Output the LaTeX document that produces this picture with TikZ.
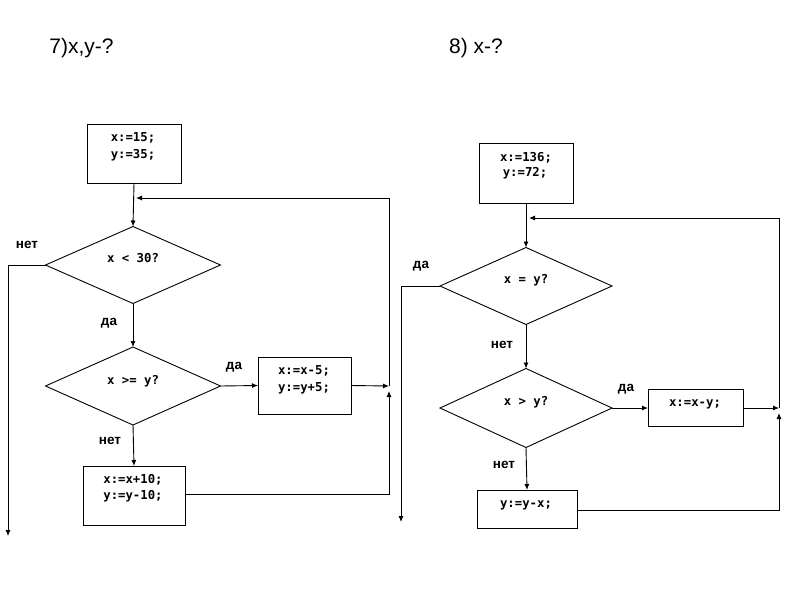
\documentclass[tikz,border=0pt]{standalone}
\usepackage{fontspec}
\setmainfont{Liberation Sans}
\newfontfamily\codefont{DejaVu Sans Mono}
\usetikzlibrary{shapes.geometric,arrows.meta}
\begin{document}
\begin{tikzpicture}[x=1pt,y=-1pt,
  line width=0.9pt,
  arr/.style={-{Latex[length=6pt,width=5pt]}},
  boxnode/.style={draw,rectangle,inner sep=0,outer sep=0},
  decnode/.style={draw,diamond,inner sep=0,outer sep=0,aspect=2.2},
  code/.style={font=\fontsize{12.3}{14}\selectfont\codefont\bfseries,inner sep=0},
  lbl/.style={font=\fontsize{13.5}{15}\selectfont\bfseries,inner sep=0},
  title/.style={font=\fontsize{21}{24}\selectfont,inner sep=0}]
\useasboundingbox (0,0) rectangle (800,600);
% titles
\node[title] (t7) at (81.5,48) {7)x,y-?};
\node[title] (t8) at (476,48) {8) x-?};
% ---------- left ----------
\node[boxnode,minimum width=94,minimum height=59] (b1) at (134,153.5) {};
\node[code] (b1t1) at (133,138) {x:=15;};
\node[code] (b1t2) at (133,155) {y:=35;};
\node[decnode,minimum width=175,minimum height=77] (d1) at (133,265) {};
\node[code] (d1t) at (133,258) {x < 30?};
\node[decnode,minimum width=175,minimum height=78] (d2) at (133,386) {};
\node[code] (d2t) at (133,381) {x >= y?};
\node[boxnode,minimum width=93,minimum height=57] (b2) at (304.5,385.5) {};
\node[code] (b2t1) at (304,371) {x:=x-5;};
\node[code] (b2t2) at (304,388) {y:=y+5;};
\node[boxnode,minimum width=102,minimum height=59] (b3) at (134,495.5) {};
\node[code] (b3t1) at (133,480) {x:=x+10;};
\node[code] (b3t2) at (133,496) {y:=y-10;};
\node[lbl] (ln1) at (27,245) {нет};
\node[lbl] (ly1) at (109,323) {да};
\node[lbl] (ly2) at (234,367) {да};
\node[lbl] (ln2) at (110,441) {нет};
\coordinate (j1) at (133,198);
\coordinate (j1e) at (136,198);
\coordinate (r1) at (389,198);
\coordinate (r2) at (389,386);
\coordinate (r3) at (389,391);
\coordinate (r4) at (389,494);
\coordinate (lx1) at (8,265);
\coordinate (lx2) at (8,536);
\draw[arr] (b1.south) -- (d1.north);
\draw[arr] (r2) -- (r1) -- (j1e);
\draw[arr] (d1.south) -- (d2.north);
\draw[arr] (d2.east) -- (b2.west);
\draw[arr] (b2.east) -- (r2);
\draw[arr] (d2.south) -- (b3.north);
\draw[arr] (b3.east |- r4) -- (r4) -- (r3);
\draw[arr] (d1.west) -- (lx1) -- (lx2);
% ---------- right ----------
\node[boxnode,minimum width=94,minimum height=60] (c1) at (526,173) {};
\node[code] (c1t1) at (526,158) {x:=136;};
\node[code] (c1t2) at (525,173) {y:=72;};
\node[decnode,minimum width=172,minimum height=77] (e1) at (526,286) {};
\node[code] (e1t) at (526,280) {x = y?};
\node[decnode,minimum width=172,minimum height=79] (e2) at (526,408) {};
\node[code] (e2t) at (526,402) {x > y?};
\node[boxnode,minimum width=95,minimum height=37] (c2) at (695.5,408) {};
\node[code] (c2t) at (695,404) {x:=x-y;};
\node[boxnode,minimum width=100,minimum height=38] (c3) at (527,509) {};
\node[code] (c3t) at (526,505) {y:=y-x;};
\node[lbl] (my1) at (421,266) {да};
\node[lbl] (mn1) at (502,345) {нет};
\node[lbl] (my2) at (626,389) {да};
\node[lbl] (mn2) at (504,465) {нет};
\coordinate (k1e) at (529,218);
\coordinate (s1) at (779,218);
\coordinate (s2) at (779,408);
\coordinate (s3) at (779,413);
\coordinate (s4) at (779,510);
\coordinate (mx1) at (401,286);
\coordinate (mx2) at (401,522);
\draw[arr] (c1.south) -- (e1.north);
\draw[arr] (s2) -- (s1) -- (k1e);
\draw[arr] (e1.south) -- (e2.north);
\draw[arr] (e2.east) -- (c2.west);
\draw[arr] (c2.east) -- (s2);
\draw[arr] (e2.south) -- (c3.north);
\draw[arr] (c3.east |- s4) -- (s4) -- (s3);
\draw[arr] (e1.west) -- (mx1) -- (mx2);
\end{tikzpicture}
\end{document}
